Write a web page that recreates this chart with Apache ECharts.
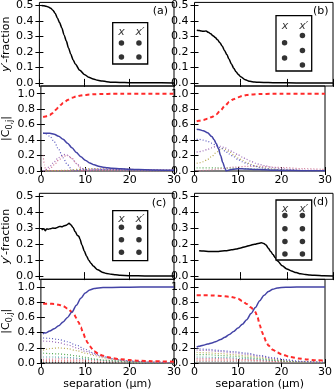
<!DOCTYPE html>
<html><head><meta charset="utf-8">
<script src="https://cdn.jsdelivr.net/npm/echarts@6/dist/echarts.min.js"></script>
<style>html,body{margin:0;padding:0;background:#fff}#c{width:335px;height:391px}</style>
</head><body><div id="c"></div>
<script>
const FONT = 'DejaVu Sans';
const xTicks = [0, 10, 20, 30];
const fracTicks = [0, 0.1, 0.2, 0.3, 0.4, 0.5];
const coefTicks = [0, 0.2, 0.4, 0.6, 0.8, 1.0];
const panelLabels = ['(a)', '(b)', '(c)', '(d)'];

// ---------- (a) ----------
const aFrac = [[0.5,0.5],[1,0.498],[1.5,0.495],[2,0.49],[2.5,0.483],[3,0.47],[3.5,0.45],[4,0.42],[4.5,0.39],[5,0.355],[5.5,0.31],[6,0.27],[6.5,0.225],[7,0.185],[7.5,0.15],[8,0.122],[9,0.082],[10,0.055],[11,0.037],[12,0.025],[13,0.017],[14,0.012],[15,0.008],[16,0.005],[18,0.003],[20,0.0015],[22,0.001],[25,0.0005],[30,0]];
const aRed = [[0.5,0.70],[1,0.705],[1.5,0.713],[2,0.725],[2.5,0.745],[3,0.77],[3.5,0.80],[4,0.83],[4.5,0.855],[5,0.88],[5.5,0.90],[6,0.92],[7,0.948],[8,0.965],[9,0.977],[10,0.985],[11,0.99],[12,0.993],[14,0.997],[16,0.999],[18,1.0],[30,1.0]];
const aBlue = [[0.5,0.49],[1,0.49],[2,0.487],[3,0.475],[4,0.45],[5,0.41],[6,0.36],[7,0.30],[8,0.24],[9,0.185],[10,0.14],[11,0.105],[12,0.08],[13,0.062],[14,0.05],[15,0.042],[16,0.036],[18,0.028],[20,0.022],[22,0.018],[25,0.014],[30,0.01]];
const aDotBlue = [[0.5,0.49],[1,0.485],[2,0.45],[3,0.38],[4,0.28],[5,0.17],[6,0.08],[7,0.015],[7.5,0.0],[8,0.008],[9,0.018],[10,0.022],[12,0.024],[15,0.02],[20,0.015],[25,0.01],[30,0.007]];
const aDotPurple = [[0.5,0.0],[1,0.015],[2,0.06],[3,0.12],[4,0.175],[5,0.21],[5.5,0.215],[6,0.205],[7,0.16],[8,0.1],[9,0.045],[10,0.012],[10.5,0.0],[11,0.006],[12,0.015],[14,0.022],[17,0.024],[20,0.02],[25,0.014],[30,0.01]];
const aDotPink = [[0.5,0.0],[2,0.03],[3,0.08],[4,0.14],[5,0.19],[6,0.2],[7,0.165],[8,0.095],[9,0.035],[9.5,0.0],[10,0.01],[12,0.02],[15,0.025],[20,0.02],[30,0.01]];
const aDotSpike = [[0.5,0.2],[0.8,0.08],[1.1,0.0],[2,0.005],[30,0.002]];
const aDotOlive = [[0.5,0.0],[3,0.005],[6,0.01],[8,0.02],[10,0.028],[12,0.03],[15,0.027],[20,0.02],[25,0.013],[30,0.009]];

// ---------- (b) ----------
const bFrac = [[0.5,0.34],[1,0.338],[1.5,0.335],[2,0.333],[2.5,0.336],[3,0.327],[3.5,0.318],[4,0.305],[4.5,0.293],[5,0.278],[5.5,0.26],[6,0.238],[6.5,0.21],[7,0.183],[7.5,0.152],[8,0.122],[8.5,0.095],[9,0.072],[9.5,0.054],[10,0.04],[11,0.02],[12,0.01],[13,0.006],[14,0.004],[16,0.002],[18,0.001],[22,0.0],[30,0.0]];
const bRed = [[0.5,0.645],[1,0.65],[2,0.66],[3,0.675],[4,0.70],[5,0.735],[6,0.785],[7,0.845],[8,0.895],[9,0.93],[10,0.955],[11,0.972],[12,0.983],[13,0.99],[15,0.996],[18,0.999],[20,1.0],[30,1.0]];
const bBlue = [[0.5,0.54],[1,0.537],[2,0.522],[3,0.495],[4,0.445],[4.5,0.405],[5,0.355],[5.5,0.29],[6,0.2],[6.5,0.11],[7,0.035],[7.3,0.0],[7.7,0.008],[8,0.014],[9,0.024],[10,0.028],[11,0.028],[12,0.026],[14,0.021],[16,0.016],[18,0.011],[20,0.008],[25,0.004],[30,0.002]];
const bDotBlue = [[0.5,0.41],[1,0.41],[2,0.40],[3,0.385],[4,0.36],[5,0.33],[6,0.30],[7,0.26],[8,0.22],[9,0.185],[10,0.15],[11,0.12],[12,0.095],[13,0.075],[14,0.06],[15,0.045],[16,0.035],[18,0.022],[20,0.014],[22,0.009],[25,0.005],[30,0.002]];
const bDotPurple = [[0.5,0.245],[1,0.25],[2,0.26],[3,0.28],[4,0.30],[5,0.32],[6,0.32],[7,0.30],[8,0.27],[9,0.24],[10,0.21],[11,0.18],[12,0.15],[13,0.125],[14,0.10],[15,0.085],[16,0.07],[18,0.045],[20,0.03],[22,0.02],[25,0.01],[30,0.004]];
const bDotOlive = [[0.5,0.10],[1,0.105],[2,0.12],[3,0.15],[4,0.19],[5,0.24],[6,0.28],[6.5,0.29],[7,0.28],[8,0.25],[9,0.21],[10,0.17],[11,0.14],[12,0.11],[13,0.085],[14,0.065],[15,0.05],[16,0.04],[18,0.025],[20,0.015],[25,0.006],[30,0.002]];
const bDotGreen = [[0.5,0.04],[5,0.04],[8,0.038],[10,0.035],[12,0.03],[15,0.022],[20,0.012],[25,0.006],[30,0.003]];
const bDotPink = [[0.5,0.0],[3,0.01],[6,0.03],[9,0.05],[12,0.06],[15,0.06],[20,0.045],[25,0.03],[30,0.02]];

// ---------- (c) ----------
const cFrac = [[0.5,0.29],[1,0.297],[1.3,0.285],[1.6,0.296],[2,0.295],[2.5,0.298],[3,0.302],[3.5,0.3],[4,0.306],[4.5,0.312],[5,0.31],[5.5,0.316],[6,0.32],[6.3,0.325],[6.6,0.332],[7,0.322],[7.5,0.305],[8,0.278],[8.5,0.255],[8.8,0.25],[9,0.235],[9.5,0.195],[10,0.158],[10.5,0.127],[11,0.1],[11.5,0.08],[12,0.063],[13,0.04],[14,0.025],[15,0.016],[16,0.012],[17,0.008],[18,0.005],[20,0.003],[22,0.002],[25,0.001],[30,0]];
const cRed = [[0.5,0.78],[1,0.78],[2,0.78],[3,0.776],[4,0.766],[5,0.748],[6,0.717],[7,0.67],[7.5,0.635],[8,0.59],[8.5,0.535],[9,0.47],[9.5,0.4],[10,0.33],[10.5,0.27],[11,0.22],[12,0.155],[13,0.12],[14,0.097],[15,0.08],[16,0.066],[18,0.05],[20,0.04],[22,0.032],[25,0.025],[30,0.018]];
const cBlue = [[0.5,0.38],[0.7,0.40],[1,0.395],[2,0.42],[3,0.45],[4,0.49],[5,0.54],[6,0.60],[7,0.67],[8,0.76],[9,0.85],[10,0.92],[11,0.96],[12,0.978],[13,0.987],[14,0.991],[16,0.994],[20,0.997],[25,0.998],[30,0.999]];
const cDotBlue = [[0.5,0.33],[2,0.325],[4,0.31],[6,0.28],[8,0.235],[10,0.18],[12,0.13],[14,0.09],[16,0.06],[18,0.04],[20,0.028],[25,0.012],[30,0.005]];
const cDotPurple = [[0.5,0.29],[2,0.285],[4,0.27],[6,0.24],[8,0.2],[10,0.155],[12,0.115],[14,0.08],[16,0.055],[20,0.025],[25,0.01],[30,0.004]];
const cDotOlive = [[0.5,0.17],[2,0.19],[4,0.2],[6,0.19],[8,0.165],[10,0.13],[12,0.1],[14,0.07],[16,0.05],[20,0.025],[25,0.01],[30,0.004]];
const cDotGreen = [[0.5,0.13],[2,0.125],[4,0.12],[6,0.11],[8,0.095],[10,0.075],[12,0.055],[14,0.04],[16,0.03],[20,0.015],[25,0.006],[30,0.002]];
const cDotCyan = [[0.5,0.08],[3,0.08],[6,0.075],[9,0.06],[12,0.045],[15,0.03],[20,0.015],[25,0.006],[30,0.003]];
const cDotPink = [[0.5,0.05],[5,0.055],[10,0.05],[15,0.035],[20,0.02],[25,0.01],[30,0.004]];
const cDotRed = [[0.5,0.03],[10,0.03],[20,0.015],[30,0.005]];
const cDotBlack = [[0.5,0.01],[10,0.008],[20,0.004],[30,0.002]];

// ---------- (d) ----------
const dFrac = [[1,0.16],[2,0.157],[3,0.155],[4,0.155],[5,0.155],[6,0.158],[7,0.16],[8,0.165],[9,0.17],[10,0.177],[11,0.185],[12,0.193],[13,0.2],[14,0.207],[14.5,0.21],[15,0.205],[15.5,0.195],[16,0.175],[16.5,0.155],[17,0.135],[17.5,0.115],[18,0.095],[19,0.065],[20,0.045],[21,0.032],[22,0.022],[23,0.015],[24,0.01],[25,0.007],[26,0.005],[28,0.002],[30,0.001]];
const dRed = [[0.5,0.89],[2,0.89],[4,0.888],[6,0.882],[8,0.872],[9,0.862],[10,0.845],[11,0.815],[12,0.775],[13,0.73],[13.5,0.705],[14,0.67],[14.5,0.6],[15,0.5],[15.5,0.41],[16,0.34],[16.5,0.28],[17,0.23],[18,0.175],[19,0.14],[20,0.115],[22,0.08],[24,0.06],[26,0.046],[28,0.038],[30,0.033]];
const dBlue = [[0.5,0.21],[1,0.22],[2,0.235],[3,0.25],[4,0.265],[5,0.285],[6,0.31],[7,0.34],[8,0.375],[9,0.415],[10,0.46],[11,0.51],[12,0.57],[13,0.65],[14,0.73],[15,0.82],[16,0.89],[17,0.94],[18,0.97],[19,0.985],[20,0.993],[22,0.997],[25,0.999],[30,1.0]];
const dDotBlue = [[0.5,0.19],[3,0.18],[6,0.165],[9,0.15],[12,0.13],[15,0.1],[18,0.07],[21,0.045],[24,0.025],[27,0.015],[30,0.01]];
const dDotPurple = [[0.5,0.17],[3,0.165],[6,0.15],[9,0.135],[12,0.115],[15,0.09],[18,0.06],[21,0.04],[24,0.022],[27,0.012],[30,0.007]];
const dDotOlive = [[0.5,0.14],[3,0.135],[6,0.125],[9,0.11],[12,0.095],[15,0.075],[18,0.05],[21,0.03],[24,0.018],[30,0.006]];
const dDotGreen = [[0.5,0.11],[3,0.11],[6,0.1],[9,0.09],[12,0.075],[15,0.06],[18,0.04],[21,0.025],[24,0.015],[30,0.005]];
const dDotCyan = [[0.5,0.08],[6,0.075],[12,0.06],[18,0.035],[24,0.015],[30,0.005]];
const dDotPink = [[0.5,0.06],[6,0.06],[12,0.05],[18,0.03],[24,0.012],[30,0.004]];
const dDotRed = [[0.5,0.04],[10,0.04],[20,0.02],[30,0.005]];
const dDotGray = [[0.5,0.02],[10,0.018],[20,0.01],[30,0.003]];

// inset schematics (site positions, fraction of box: [column, row-from-top])
const insetDotsA = [[0.25,0.49],[0.25,0.83],[0.75,0.49],[0.75,0.83]];
const insetDotsB = [[0.24,0.49],[0.24,0.765],[0.74,0.36],[0.74,0.63],[0.74,0.89]];
const insetDotsC = [[0.25,0.33],[0.25,0.58],[0.25,0.83],[0.75,0.33],[0.75,0.58],[0.75,0.83]];
const insetDotsD = [[0.25,0.26],[0.25,0.48],[0.25,0.69],[0.25,0.9],[0.74,0.26],[0.74,0.48],[0.74,0.69],[0.74,0.9]];
const insetLabelRow = [0.23, 0.19, 0.17, 0.15];

const C = {blue:'#4343a6', red:'#ff2a2a', dBlue:'#5a5ac0', dPurple:'#9a66b4', dPink:'#cc6f90', dOlive:'#b8a850', dGreen:'#55aa55', dCyan:'#55aaaa', dRed:'#dd5555', dGray:'#888888', dBlack:'#333333'};

const panels = [
  {frac:aFrac, red:aRed, blue:aBlue, dots:[[aDotSpike,C.dPink],[aDotOlive,C.dOlive],[aDotPink,C.dPink],[aDotPurple,C.dPurple],[aDotBlue,C.dBlue]], inset:insetDotsA},
  {frac:bFrac, red:bRed, blue:bBlue, dots:[[bDotGreen,C.dGreen],[bDotPink,C.dPink],[bDotOlive,C.dOlive],[bDotPurple,C.dPurple],[bDotBlue,C.dBlue]], inset:insetDotsB},
  {frac:cFrac, red:cRed, blue:cBlue, dots:[[cDotBlack,C.dBlack],[cDotRed,C.dRed],[cDotPink,C.dPink],[cDotCyan,C.dCyan],[cDotGreen,C.dGreen],[cDotOlive,C.dOlive],[cDotPurple,C.dPurple],[cDotBlue,C.dBlue]], inset:insetDotsC},
  {frac:dFrac, red:dRed, blue:dBlue, dots:[[dDotGray,C.dGray],[dDotRed,C.dRed],[dDotPink,C.dPink],[dDotCyan,C.dCyan],[dDotGreen,C.dGreen],[dDotOlive,C.dOlive],[dDotPurple,C.dPurple],[dDotBlue,C.dBlue]], inset:insetDotsD}
];

// layout
const colX = [[35,139],[194.5,138.5]];
const rowTop = [[0.2,85.8],[193.3,86]];
const rowBot = [[86,85],[279.3,86.7]];
const insetRect = [[112.7,22.7,35,41.3],[276,15.7,35.7,55.3],[112.7,210.7,35,50],[276,200,35.7,60]];
const letterPos = [[152.7,10.7],[313,11],[151.7,203.3],[312.7,202.3]];

const grids=[], xAxes=[], yAxes=[], series=[], graphics=[];
const tickStyle = {show:true, inside:true, length:4, lineStyle:{color:'#000', width:1}};
const lblStyle = {color:'#000', fontFamily:FONT, fontSize:11};

function addPlot(rect, ymin, ymax, yt, showX, xName, yName) {
  const gi = grids.length;
  grids.push({left:rect[0], top:rect[1], width:rect[2], height:rect[3], show:true, borderColor:'#000', borderWidth:1, backgroundColor:'rgba(0,0,0,0)'});
  const xi = xAxes.length;
  xAxes.push({gridIndex:gi, type:'value', position:'bottom', min:0, max:30, interval:10,
    axisLine:{show:false}, axisTick:tickStyle, splitLine:{show:false},
    axisLabel:Object.assign({show:showX, margin:4, showMinLabel:true, showMaxLabel:true}, lblStyle),
    name:xName||'', nameLocation:'middle', nameGap:13, nameTextStyle:lblStyle});
  xAxes.push({gridIndex:gi, type:'value', position:'top', min:0, max:30, interval:10,
    axisLine:{show:false}, axisTick:tickStyle, splitLine:{show:false}, axisLabel:{show:false}});
  const yi = yAxes.length;
  yAxes.push({gridIndex:gi, type:'value', position:'left', min:ymin, max:ymax,
    axisLine:{show:false}, splitLine:{show:false},
    axisTick:Object.assign({customValues:yt}, tickStyle),
    axisLabel:Object.assign({customValues:yt, margin:6, formatter:v=>v.toFixed(1)}, lblStyle),
    name:yName?yName.text:'', nameLocation:'middle', nameRotate:90, nameGap:yName?yName.gap:0,
    nameTextStyle:yName?yName.style:lblStyle});
  yAxes.push({gridIndex:gi, type:'value', position:'right', min:ymin, max:ymax,
    axisLine:{show:false}, splitLine:{show:false},
    axisTick:Object.assign({customValues:yt}, tickStyle), axisLabel:{show:false}});
  return {xi, yi};
}

function line(ax, data, color, width, type, z) {
  series.push({type:'line', xAxisIndex:ax.xi, yAxisIndex:ax.yi, data:data, symbol:'none', showSymbol:false,
    smooth:0.3, smoothMonotone:'x', clip:true, animation:false, silent:true, z:z,
    lineStyle:{color:color, width:width, type:type}});
}

const fracName = {text:'{i|y′}-fraction', gap:20, style:Object.assign({rich:{i:{fontStyle:'italic', fontFamily:FONT, fontSize:11, color:'#000'}}}, lblStyle)};
const coefName = {text:'|C{s|0,j}|', gap:19, style:Object.assign({rich:{s:{fontFamily:FONT, fontSize:8, color:'#000', padding:[6,0,0,0]}}}, lblStyle)};

panels.forEach((p, i) => {
  const c = i % 2, r = Math.floor(i / 2);
  const ax1 = addPlot([colX[c][0], rowTop[r][0], colX[c][1], rowTop[r][1]], -0.02, 0.52, fracTicks, false, '', c===0?fracName:null);
  line(ax1, p.frac, '#000', 1.5, 'solid', 5);
  const ax2 = addPlot([colX[c][0], rowBot[r][0], colX[c][1], rowBot[r][1]], 0, 1.1, coefTicks, true, r===1?'separation (μm)':'', c===0?coefName:null);
  p.dots.forEach(d => line(ax2, d[0], d[1], 1.2, [1,2], 3));
  line(ax2, p.red, C.red, 2, [4,3], 4);
  line(ax2, p.blue, C.blue, 1.5, 'solid', 5);

  // inset schematic
  const ir = insetRect[i];
  const gi = grids.length;
  grids.push({left:ir[0], top:ir[1], width:ir[2], height:ir[3], show:true, borderColor:'#000', borderWidth:1.3, backgroundColor:'#fff', z:6});
  const xi = xAxes.length, yi = yAxes.length;
  xAxes.push({gridIndex:gi, type:'value', min:0, max:1, show:false});
  yAxes.push({gridIndex:gi, type:'value', min:0, max:1, inverse:true, show:false});
  series.push({type:'scatter', xAxisIndex:xi, yAxisIndex:yi, data:p.inset, symbol:'circle', symbolSize:5.5,
    itemStyle:{color:'#000'}, animation:false, silent:true, z:7});
  series.push({type:'scatter', xAxisIndex:xi, yAxisIndex:yi, symbolSize:0, animation:false, silent:true, z:7,
    data:[{value:[0.25, insetLabelRow[i]], name:'x'}, {value:[0.78, insetLabelRow[i]], name:'x′'}],
    label:{show:true, position:'inside', formatter:'{b}', fontStyle:'italic', fontFamily:FONT, fontSize:11, color:'#000'}});

  graphics.push({type:'text', x:letterPos[i][0], y:letterPos[i][1], z:10,
    style:{text:panelLabels[i], fill:'#000', font:'11px "DejaVu Sans"', textAlign:'left', textVerticalAlign:'middle'}});
});

const chart = echarts.init(document.getElementById('c'), null, {renderer:'canvas'});
chart.setOption({animation:false, grid:grids, xAxis:xAxes, yAxis:yAxes, series:series, graphic:graphics});
</script></body></html>
